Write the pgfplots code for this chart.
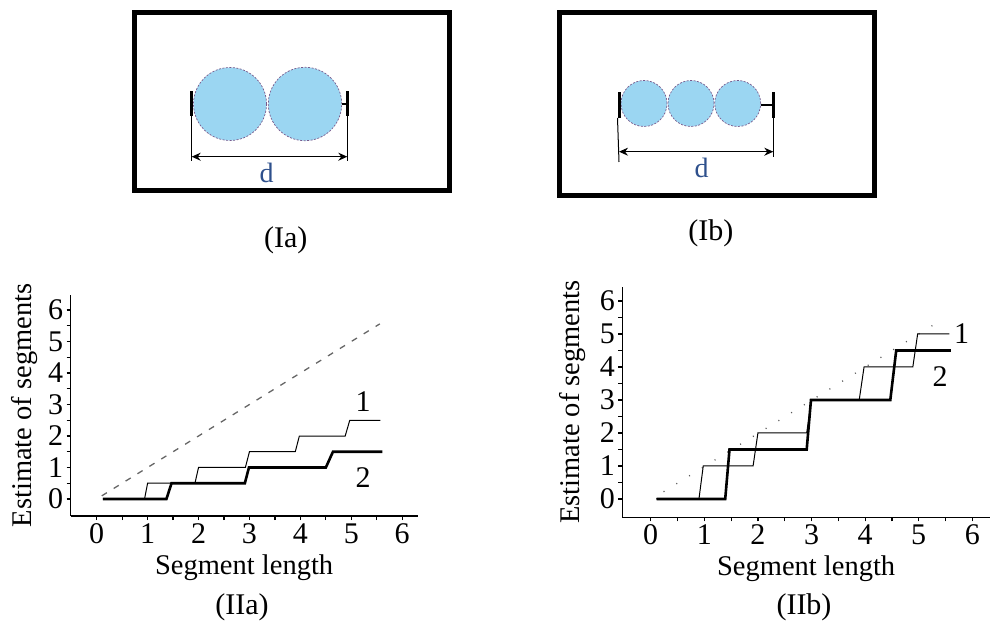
\documentclass[border=0pt]{standalone}
\usepackage{fontspec}
\setmainfont{Liberation Serif}
\usepackage{pgfplots}
\pgfplotsset{compat=1.18}
\usetikzlibrary{arrows.meta}
\definecolor{cfill}{RGB}{155,214,242}
\definecolor{cline}{RGB}{120,90,140}
\definecolor{dcol}{RGB}{46,80,140}
\pgfplotsset{
  panel/.style={
    scale only axis,
    axis x line=bottom, axis y line=left,
    axis line style={-, line width=1.4pt},
    xtick={0,...,6}, ytick={0,...,6},
    minor x tick num=1, minor y tick num=1,
    tick align=outside,
    major tick length=4pt, minor tick length=4pt,
    every tick/.style={line width=1.2pt, black},
    every minor tick/.style={line width=1.2pt, black},
    font=\fontsize{30}{34}\selectfont,
    tick label style={font=\fontsize{30}{34}\selectfont},
    label style={font=\fontsize{28.5}{32}\selectfont},
    /pgf/number format/assume math mode=true,
    xlabel={Segment length}, ylabel={Estimate of segments},
    xlabel style={yshift=-4pt},
    clip=false,
  }
}
\begin{document}
\begin{tikzpicture}
\useasboundingbox (0,0) rectangle (993pt,624pt);
\begin{scope}[x=1pt,y=1pt]
% (Ia)
\draw[line width=5pt] (134,611) rectangle (449,433);
\draw[cline, fill=cfill, line width=0.7pt, dash pattern=on 2pt off 1.5pt] (230,520) circle (36.5);
\draw[cline, fill=cfill, line width=0.7pt, dash pattern=on 2pt off 1.5pt] (305,520) circle (36.7);
\draw[line width=3pt] (191,532.5) -- (191,507.5);
\draw[line width=3pt] (347,532.5) -- (347,507.5);
\draw[line width=1.5pt] (341.5,520) -- (347,520);
\draw[line width=1pt] (191.7,507.5) -- (191.7,463);
\draw[line width=1pt] (347.3,507.5) -- (347.3,463);
\draw[line width=1pt, {Stealth[length=9pt,width=8pt]}-{Stealth[length=9pt,width=8pt]}] (191.7,467.3) -- (347.3,467.3);
\node[dcol, font=\fontsize{28}{32}\selectfont] at (266.7,451) {d};
\node[font=\fontsize{30}{34}\selectfont] at (285.8,384) {(Ia)};
% (Ib)
\draw[line width=5pt] (559,611.5) rectangle (874,428);
\foreach \cx in {644,691,737.7}{
  \draw[cline, fill=cfill, line width=0.7pt, dash pattern=on 2pt off 1.5pt] (\cx,520.5) circle (23);
}
\draw[line width=3pt] (619,531.5) -- (619,506);
\draw[line width=3pt] (773.3,531.5) -- (773.3,506);
\draw[line width=1.5pt] (760.7,519) -- (773.3,519);
\draw[line width=1pt] (617.5,506) -- (619,462);
\draw[line width=1pt] (773.3,506) -- (773.3,467);
\draw[line width=1pt, {Stealth[length=9pt,width=8pt]}-{Stealth[length=9pt,width=8pt]}] (619,472.3) -- (773.3,472.3);
\node[dcol, font=\fontsize{28}{32}\selectfont] at (701.7,456) {d};
\node[font=\fontsize{30}{34}\selectfont] at (710.8,391) {(Ib)};
% captions
\node[font=\fontsize{30}{34}\selectfont] at (242,17) {(IIa)};
\node[font=\fontsize{30}{34}\selectfont] at (804,17) {(IIb)};
\end{scope}

% (IIa)
\begin{axis}[panel,
  at={(70.7pt,108pt)}, anchor=south west,
  xmin=-0.51, xmax=6.3, ymin=-0.54, ymax=6.48,
  width=346.8pt, height=221.1pt,
  ylabel style={yshift=4pt},
]
\addplot[gray!80!black, line width=1.3pt, dash pattern=on 6pt off 8pt] coordinates {(0.1,0.1) (5.56,5.56)};
\addplot[black, line width=1pt] coordinates {
(0.12,0)(0.94,0)(1.0,0.5)(1.93,0.5)(2.0,1.0)(2.92,1.0)(3.0,1.5)(3.9,1.5)(3.98,2.0)(4.88,2.0)(4.97,2.5)(5.57,2.5)};
\addplot[black, line width=2.6pt] coordinates {
(0.12,0)(1.37,0)(1.47,0.5)(2.91,0.5)(2.99,1.0)(4.5,1.0)(4.64,1.5)(5.61,1.5)};
\node at (axis cs:5.23,3.08) {1};
\node at (axis cs:5.23,0.67) {2};
\end{axis}

% (IIb)
\begin{axis}[panel,
  at={(622.3pt,106.7pt)}, anchor=south west,
  xmin=-0.53, xmax=6.33, ymin=-0.555, ymax=6.43,
  width=367.7pt, height=230.5pt,
  ylabel style={yshift=7pt},
]
\addplot[gray!70!black, line width=1.3pt, dash pattern=on 1pt off 14pt] coordinates {(0.24,0.22) (5.42,5.42)};
\addplot[black, line width=1pt] coordinates {
(0.1,0)(0.9,0)(0.98,1.0)(1.91,1.0)(2.0,2.0)(2.91,2.0)(3.0,3.0)(3.89,3.0)(3.98,4.0)(4.89,4.0)(4.98,5.0)(5.57,5.0)};
\addplot[black, line width=2.6pt] coordinates {
(0.11,0)(1.39,0)(1.47,1.5)(2.91,1.5)(2.99,3.0)(4.47,3.0)(4.58,4.5)(5.6,4.5)};
\node at (axis cs:5.8,5.02) {1};
\node at (axis cs:5.4,3.71) {2};
\end{axis}
\end{tikzpicture}
\end{document}
